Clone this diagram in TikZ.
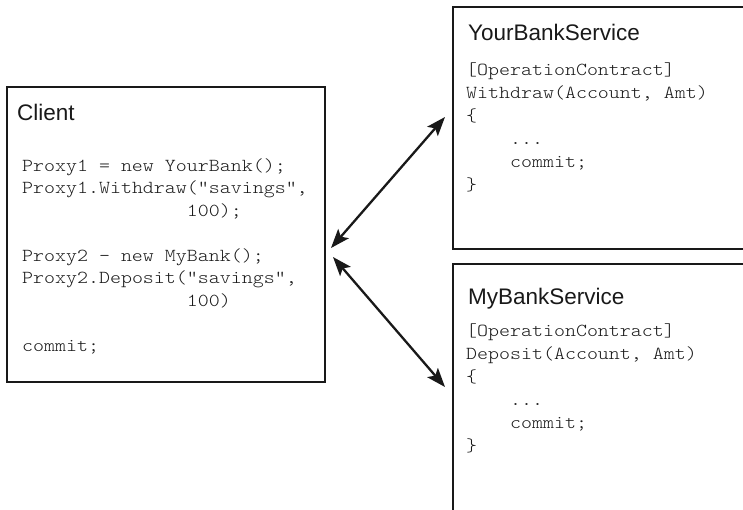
\documentclass[tikz,border=0pt]{standalone}
\usepackage{fontspec}
\setmainfont{Liberation Sans}
% thin typewriter face, widened to Courier's 0.6em advance
\setmonofont{lmmonolt10-regular.otf}[FakeStretch=1.143]
\usetikzlibrary{arrows.meta}
\tikzset{
  panel/.style={draw=black!90, line width=2.2pt, anchor=north west,
    inner sep=0pt, outer sep=0pt},
  title/.style={anchor=base west, inner sep=0pt, text=black!90,
    font=\fontsize{22.5}{27}\selectfont},
  code/.style={anchor=base west, inner sep=0pt, text=black!90,
    font=\fontsize{18.3}{22.5}\selectfont\ttfamily},
  svccode/.style={code, font=\fontsize{18.3}{23}\selectfont\ttfamily},
  link/.style={draw=black!90, line width=2.3pt,
    {Stealth[length=19pt,width=14pt,inset=4pt]}-{Stealth[length=19pt,width=14pt,inset=4pt]}}
}
\begin{document}
\begin{tikzpicture}[x=1pt,y=-1pt]
\useasboundingbox (0,0) rectangle (743,509);

% the three panels (the service panels run off the right and bottom edges)
\node[panel, minimum width=318pt, minimum height=295pt] (client) at (7,87) {};
\node[panel, minimum width=330pt, minimum height=242pt] (yours) at (453,7) {};
\node[panel, minimum width=330pt, minimum height=280pt] (mine) at (453,264) {};

% titles
\node[title] (clienttitle) at (17,120) {Client};
\node[title] (yourstitle) at (468,40) {YourBankService};
\node[title] (minetitle) at (468,304) {MyBankService};

% client code
\node[code] (clientcode) at (22,171) {\begin{tabular}[t]{@{}l@{}}
Proxy1 = new YourBank();\\
Proxy1.Withdraw(”savings”,\\
\phantom{Proxy2.Deposit(}100);\\
\\
Proxy2 - new MyBank();\\
Proxy2.Deposit(”savings”,\\
\phantom{Proxy2.Deposit(}100)\\
\\
commit;
\end{tabular}};

% service code
\node[svccode] (yourscode) at (466,75) {\begin{tabular}[t]{@{}l@{}}
[OperationContract]\\
Withdraw(Account, Amt)\\
\{\\
\phantom{xxxx}...\\
\phantom{xxxx}commit;\\
\}
\end{tabular}};
\node[svccode] (minecode) at (466,336) {\begin{tabular}[t]{@{}l@{}}
[OperationContract]\\
Deposit(Account, Amt)\\
\{\\
\phantom{xxxx}...\\
\phantom{xxxx}commit;\\
\}
\end{tabular}};

% arrow ends, just clear of the panel borders
\coordinate (ya) at (445,117);
\coordinate (ca) at (331,248);
\coordinate (cb) at (333,257);
\coordinate (ma) at (445,387);
\draw[link] (ca) -- (ya);
\draw[link] (cb) -- (ma);
\end{tikzpicture}
\end{document}
